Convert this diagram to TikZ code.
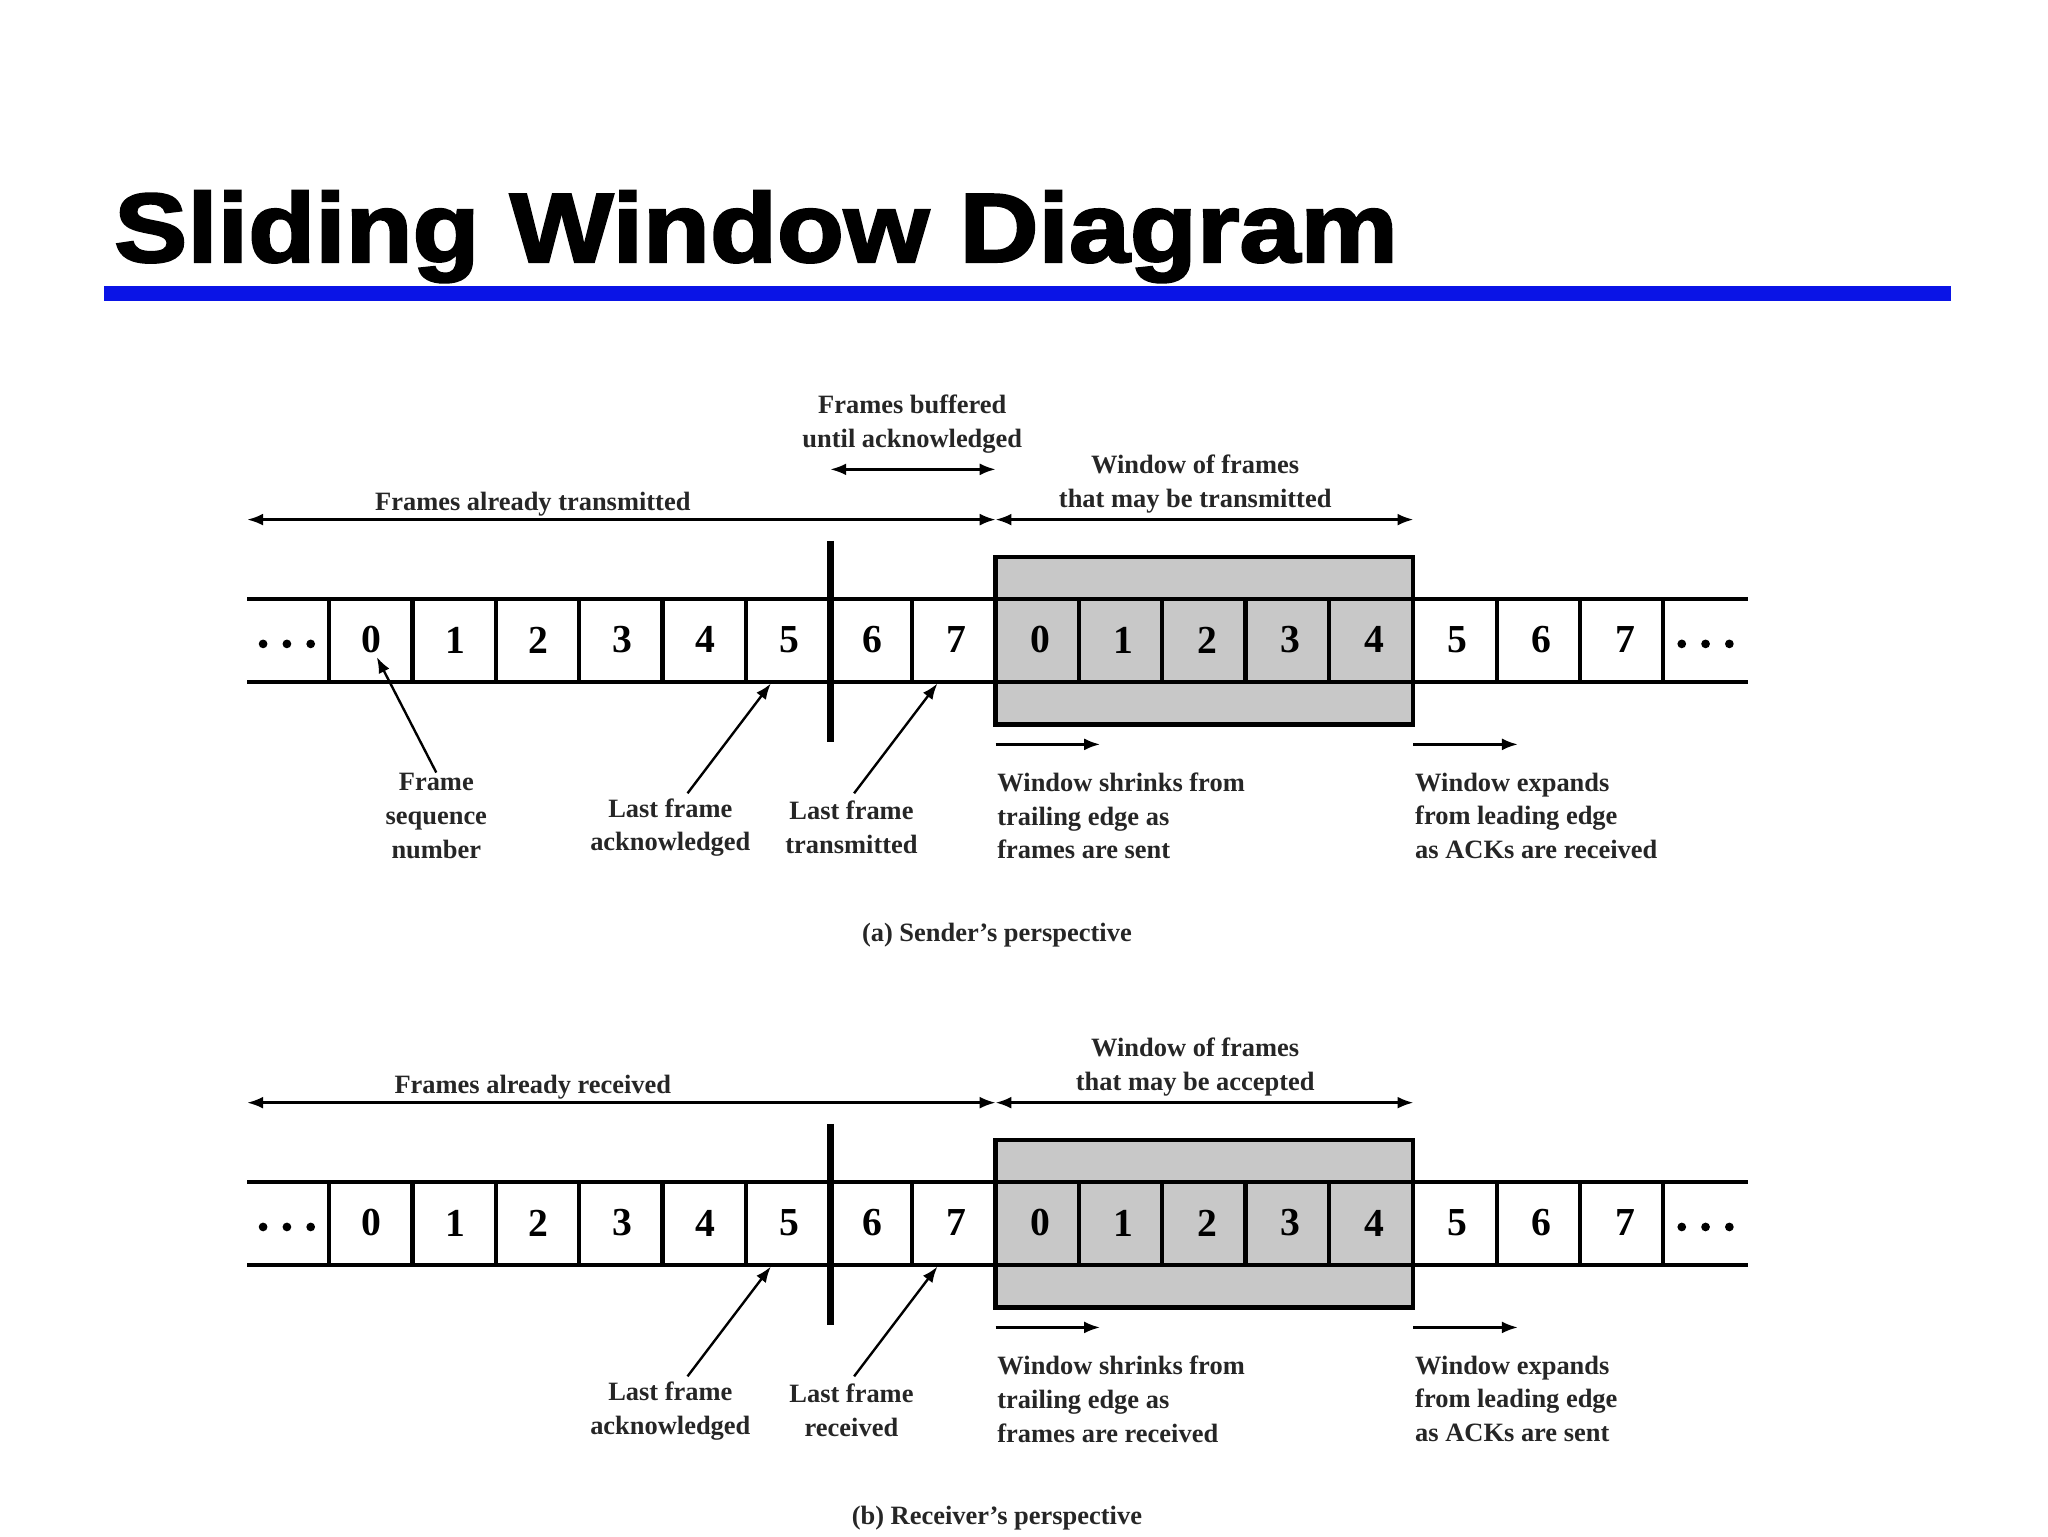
\documentclass[tikz,border=0pt]{standalone}
\usepackage{fontspec}
\setmainfont{Liberation Serif}
\newfontfamily\titlefont[FakeBold=2.5,FakeStretch=1.12]{Liberation Sans Bold}
\usetikzlibrary{arrows.meta}
\definecolor{barblue}{RGB}{10,20,230}
\definecolor{wgray}{RGB}{200,200,200}
\begin{document}
\begin{tikzpicture}[x=0.5pt,y=-0.5pt,
  lbl/.style={font=\fontsize{10}{12.8}\selectfont\bfseries, text=black!85, align=center, inner sep=0pt},
  lbll/.style={lbl, align=left, anchor=north west},
  dig/.style={font=\fontsize{15}{15}\selectfont\bfseries, inner sep=0pt},
  arr/.style={-{Latex[length=6pt,width=4.5pt]}, line width=0.9pt},
  darr/.style={{Latex[length=6pt,width=4.5pt]}-{Latex[length=6pt,width=4.5pt]}, line width=0.9pt},
  strip/.style={line width=1.6pt}]
\useasboundingbox (0,0) rectangle (1549,1162);
\node[anchor=base west, inner sep=0pt, font=\titlefont\fontsize{37}{37}\selectfont] (title) at (86,198) {Sliding Window Diagram};
\fill[barblue] (79,216) rectangle (1476,228);
\foreach \dy/\p/\lasttx/\wtxt/\shr/\exp/\cap in {0/a/transmitted/transmitted/sent/received/{(a) Sender's perspective},441/b/received/accepted/received/sent/{(b) Receiver's perspective}}{
 \begin{scope}[yshift=-\dy*0.5pt]
  \fill[wgray] (753,421) rectangle (1069,548);
  \draw[strip] (753,421) rectangle (1069,548);
  \draw[strip] (187,453) -- (1322,453) (187,516) -- (1322,516);
  \foreach \x in {249,312,375,438,501,564,627,690,753,816,879,942,1005,1069,1132,1195,1258}
    \draw[strip] (\x,453) -- (\x,516);
  \draw[line width=2.6pt] (628,409) -- (628,561);
  \foreach \x in {199,217,235,1272,1290,1308} \fill (\x,487) circle (3.3);
  \foreach \d [count=\i from 0] in {0,1,2,3,4,5,6,7,0,1,2,3,4,5,6,7}
    \node[dig] (\p c\i) at (281+\i*63.2,484) {\d};
  \coordinate (\p L) at (187,393); \coordinate (\p M) at (753,393); \coordinate (\p R) at (1069,393);
  \draw[darr] (\p L) -- (\p M);
  \draw[darr] (\p M) -- (\p R);
  \node[lbl] (\p already) at (403,381) {Frames already \ifnum\dy=0 transmitted\else received\fi};
  \node[lbl] (\p win) at (904,366) {Window of frames\\that may be \wtxt};
  \coordinate (\p s1) at (753,563); \coordinate (\p s2) at (832,563);
  \coordinate (\p e1) at (1069,563); \coordinate (\p e2) at (1148,563);
  \draw[arr] (\p s1) -- (\p s2);
  \draw[arr] (\p e1) -- (\p e2);
  \node[lbll] (\p shrink) at (754,584) {Window shrinks from\\trailing edge as\\frames are \shr};
  \node[lbll] (\p expand) at (1070,584) {Window expands\\from leading edge\\as ACKs are \exp};
  \coordinate (\p la) at (583,517); \coordinate (\p lt) at (709,517);
  \node[lbl] (\p lack) at (507,626) {Last frame\\acknowledged};
  \node[lbl] (\p ltx) at (644,626) {Last frame\\\lasttx};
  \draw[arr] (520,600) -- (\p la);
  \draw[arr] (646,600) -- (\p lt);
  \node[lbl] (\p cap) at (754,707) {\cap};
 \end{scope}}
\node[lbl] (buf) at (690,321) {Frames buffered\\until acknowledged};
\coordinate (b1) at (628,355); \coordinate (b2) at (753,355);
\draw[darr] (b1) -- (b2);
\node[lbl] (fsn) at (330,617) {Frame\\sequence\\number};
\draw[arr] (fsn.north) -- (285,497);
\end{tikzpicture}
\end{document}
